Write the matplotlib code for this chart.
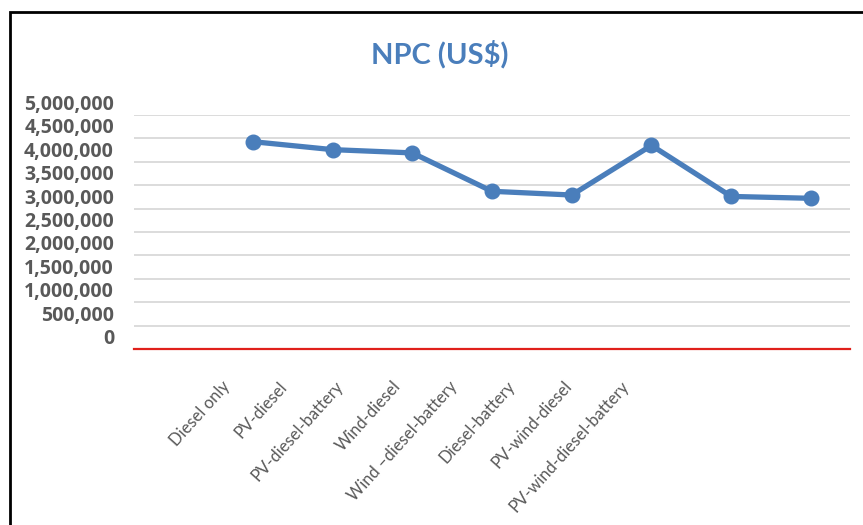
import matplotlib.pyplot as plt
import matplotlib.transforms as mtransforms
from matplotlib.patches import Rectangle
import numpy as np

# ------------------ DATOS ------------------
sistemas = ["Diesel only", "PV-diesel", "PV-diesel-battery", "Wind-diesel",
            "Wind \u2013diesel-battery", "Diesel-battery", "PV-wind-diesel",
            "PV-wind-diesel-battery"]
npc = [4430000, 4260000, 4190000, 3370000, 3290000, 4350000, 3260000, 3220000]
y_ticks = np.arange(0, 5000001, 500000)

azul = "#4A7EBB"
gris = "#595959"

plt.rcParams['font.family'] = ['Lato', 'DejaVu Sans']

fig = plt.figure(figsize=(8.63, 5.25), dpi=100)
ax = fig.add_axes([134/863, 1 - 349/525, (850 - 134)/863, (349 - 115)/525])

x = np.arange(len(npc))
ax.plot(x, npc, color=azul, lw=3.8, marker='o', markersize=10.5, zorder=3)

ax.set_xlim(-1.49, 7.49)
ax.set_ylim(0, 5000000)
ax.set_yticks(y_ticks)
ax.grid(axis='y', color='#D9D9D9', lw=1.3)
ax.set_axisbelow(True)

for s in ['top', 'right', 'left']:
    ax.spines[s].set_visible(False)
ax.spines['bottom'].set_color('#E0201B')
ax.spines['bottom'].set_linewidth(1.6)

ax.tick_params(axis='y', length=0, labelleft=False)
# etiquetas del eje y, un poco por encima de las líneas como en la imagen
ytrans = ax.get_yaxis_transform() + mtransforms.ScaledTranslation(
    -20/100, 10/100, fig.dpi_scale_trans)
for v in y_ticks:
    ax.text(0, v, f"{int(v):,}", transform=ytrans, ha='right', va='center',
            fontsize=14, fontweight='bold', color=gris, family='Open Sans')

# etiquetas del eje x (más juntas que los puntos, como en la imagen)
lab_x = -0.40 + 0.715 * np.arange(len(sistemas))
ax.set_xticks(lab_x)
ax.set_xticklabels(sistemas, rotation=48, ha='right', va='top',
                   rotation_mode='anchor', fontsize=12, color=gris)
ax.tick_params(axis='x', length=0, pad=21)

fig.text(440/863, 1 - 54/525, "NPC (US$)", ha='center', va='center',
         fontsize=21, fontweight='bold', color=azul)

# marco
fig.patches.append(Rectangle((10/863, -0.2), 1.5, 0.2 + 1 - 12/525,
                             transform=fig.transFigure, fill=False,
                             edgecolor='black', lw=2))

fig.savefig("out.png", dpi=100)
